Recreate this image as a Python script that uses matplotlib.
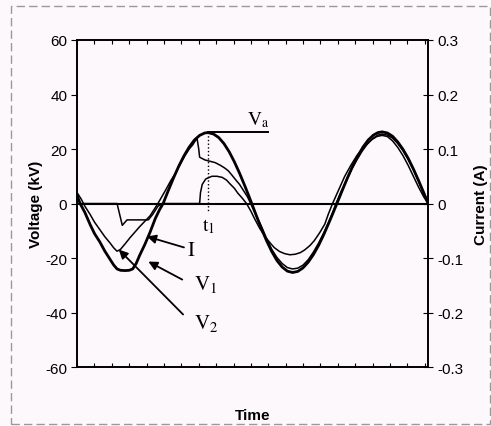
import matplotlib
matplotlib.use("Agg")
import matplotlib.pyplot as plt
from matplotlib.patches import Rectangle

# time in ms, voltages in kV, current in A
t_v1 = [0, 0.35, 0.9, 1.5, 2.0, 2.6, 3.2, 3.8, 4.2, 4.6, 5.0, 5.5, 6.0, 6.4, 6.8, 7.2, 7.8, 8.4,
        9.0, 9.5, 9.9, 10.5, 11.1, 11.7, 12.3, 12.9, 13.5, 14.1, 14.7, 15.1, 15.7, 16.3, 16.9,
        17.5, 18.1, 18.7, 19.3, 19.7, 20.1, 20.6, 21.2, 21.8, 22.4, 23.0, 23.6, 24.2, 24.8, 25.4,
        26.0, 26.6, 27.2, 27.8, 28.4, 29.0, 29.5, 29.9, 30.5, 31.1, 31.7, 32.3, 32.9, 33.5, 34.1,
        34.6, 35.1, 35.7, 36.3, 36.9, 37.5, 38.1, 38.7, 39.3, 39.9, 40.4]
v1 = [3, 0, -3.3, -7.7, -11, -14, -17.5, -20.5, -22.5, -24, -24.5, -24.6, -24.5, -24, -22, -19,
      -15, -10.5, -5.5, -2.2, 0, 4.8, 9.4, 13.7, 17.5, 20.7, 23.3, 25.0, 25.9, 26, 25.5, 24.2, 22,
      19, 15.3, 11.1, 6.5, 3.3, 0, -4.2, -9.1, -13.6, -17.6, -20.9, -23.3, -24.8, -25.3, -24.9,
      -23.6, -21.5, -18.7, -15.3, -11.3, -6.9, -3.1, 0, 4.7, 9.3, 13.6, 17.4, 20.7, 23.3, 25.1,
      26, 26.3, 25.9, 24.7, 22.6, 19.9, 16.6, 12.7, 8.4, 3.9, 0]

t_v2 = [0, 0.5, 0.9, 1.5, 2.0, 2.6, 3.2, 3.8, 4.2, 4.6, 5.0, 5.6, 6.1, 7.2, 8.4, 9.3, 10.2, 10.8,
        11.3, 11.8, 12.4, 12.9, 13.3, 13.6, 13.8, 14.0, 14.1, 14.7, 15.3, 15.9, 16.5, 17.0, 17.4,
        17.8, 18.3, 18.7, 19.2, 19.6, 20.2, 20.7, 21.3, 21.8, 22.4, 23.0, 23.6, 24.2, 24.8, 25.4,
        26.0, 26.6, 27.2, 27.8, 28.4, 29.0, 29.4, 29.8, 30.4, 31.0, 31.6, 32.2, 32.8, 33.4, 34.0,
        34.6, 35.1, 35.7, 36.3, 36.9, 37.5, 38.1, 38.7, 39.3, 39.9, 40.2, 40.4]
v2 = [4, 1.5, -1, -4, -6.8, -9.5, -12.2, -14.5, -16.2, -17.5, -16.8, -14.5, -12.5, -8.5, -4.5, 0,
      5, 8.5, 11, 14, 17.5, 20, 21.5, 23, 24, 20, 17, 16, 15.5, 15, 14, 13, 12, 10.5, 8.5, 7, 4.5,
      2.5, -1.5, -5, -9, -12.8, -16.8, -19.8, -22, -23.5, -24, -23.7, -22.6, -20.6, -17.8, -14.5,
      -10.7, -6.5, -3.5, 0, 4.5, 8.5, 12.6, 16, 19.2, 21.8, 23.8, 25.1, 25.5, 25.1, 24, 22, 19.4,
      16.2, 12.4, 8.2, 3.5, 2, 1]

t_i = [0, 4.6, 5.2, 5.75, 8.2, 8.7, 9.3, 9.8, 14.1, 14.2, 14.4, 14.8, 15.5, 16.1, 16.7, 17.2,
       17.6, 18.1, 18.5, 19.0, 19.5, 20.0, 20.4, 21.0, 21.6, 22.2, 22.7, 23.3, 23.9, 24.5, 25.1,
       25.7, 26.2, 26.8, 27.3, 27.9, 28.5, 28.9, 29.4, 30.1, 30.8, 31.5, 32.2, 32.8, 33.3, 33.9,
       34.5, 35.1, 35.7, 36.3, 36.9, 37.5, 38.1, 38.7, 39.3, 39.9, 40.4]
cur = [0, 0, -0.04, -0.03, -0.03, -0.02, -0.005, 0, 0, 0.02, 0.035, 0.045, 0.05, 0.05, 0.048,
       0.043, 0.036, 0.028, 0.019, 0.01, 0, -0.014, -0.027, -0.045, -0.06, -0.072, -0.081, -0.088,
       -0.092, -0.094, -0.093, -0.09, -0.085, -0.077, -0.068, -0.054, -0.038, -0.02, 0, 0.025,
       0.05, 0.07, 0.088, 0.1, 0.108, 0.117, 0.123, 0.125, 0.123, 0.115, 0.103, 0.088, 0.07, 0.05,
       0.03, 0.012, 0]

v_ticks = [-60, -40, -20, 0, 20, 40, 60]
i_ticks = [-0.3, -0.2, -0.1, 0, 0.1, 0.2, 0.3]
i_labels = ["-0.3", "-0.2", "-0.1", "0", "0.1", "0.2", "0.3"]

t1 = 15.1
va = 26.2

bg = "#fdf8fc"
plt.rcParams["font.family"] = ["Liberation Sans", "DejaVu Sans"]
plt.rcParams["mathtext.fontset"] = "stix"

fig = plt.figure(figsize=(4.91, 4.27), dpi=100, facecolor=bg)
ax = fig.add_axes([0.157, 0.138, 0.715, 0.766], facecolor=bg)
ax2 = ax.twinx()

fig.patches.append(Rectangle((0.022, 0.005), 0.975, 0.978, transform=fig.transFigure,
                             fill=False, ls=(0, (6, 3)), lw=1.0, ec="#999999"))

ax.plot(t_v1, v1, color="black", lw=2.0)
ax.plot(t_v2, v2, color="black", lw=1.1)
ax2.plot(t_i, cur, color="black", lw=1.1)
ax.axhline(0, color="black", lw=1.5)

ax.set_xlim(0, 40.4)
ax.set_ylim(-60, 60)
ax2.set_ylim(-0.3, 0.3)

ax.set_yticks(v_ticks)
ax.set_yticklabels([str(v) for v in v_ticks])
ax2.set_yticks(i_ticks)
ax2.set_yticklabels(i_labels)
ax.tick_params(axis="y", direction="out", length=4, labelsize=11, pad=3)
ax2.tick_params(axis="y", direction="inout", length=7, labelsize=11, pad=3)
ax.set_xticks([i * 2.0 for i in range(21)])
ax.set_xticklabels([])
ax.tick_params(axis="x", direction="in", length=3, top=True, width=0.8)

for sp in ["left", "right", "top", "bottom"]:
    ax.spines[sp].set_linewidth(1.2)
    ax2.spines[sp].set_linewidth(1.2)

ax.set_ylabel("Voltage (kV)", fontsize=11, fontweight="bold", labelpad=2)
ax2.set_ylabel("Current (A)", fontsize=11, fontweight="bold", labelpad=8)
ax.set_xlabel("Time", fontsize=11, fontweight="bold", labelpad=26)

# t1 marker and Va level
ax.plot([t1, t1], [va, -3.5], color="black", lw=1.0, ls=":")
ax.plot([t1, 22.0], [va, va], color="black", lw=1.4)
ax.text(t1, -8, r"$\mathrm{t_1}$", fontsize=14, ha="center", va="center")
ax.text(20.8, 31, r"$\mathrm{V_a}$", fontsize=14, ha="center", va="center")

# arrow labels
arrows = [
    (r"$\mathrm{I}$", (12.65, -16.9), (12.3, -16.1), (8.05, -12.1)),
    (r"$\mathrm{V_1}$", (13.5, -29.5), (12.1, -27.9), (8.2, -21.3)),
    (r"$\mathrm{V_2}$", (13.4, -43.5), (12.2, -40.7), (4.8, -16.9)),
]
for label, pos, start, tip in arrows:
    ax.annotate("", xy=tip, xytext=start,
                arrowprops=dict(arrowstyle="-|>", color="black", lw=1.3, mutation_scale=13,
                                shrinkA=0, shrinkB=0))
    ax.text(pos[0], pos[1], label, fontsize=15, ha="left", va="center")

fig.savefig("out.png", dpi=100, facecolor=bg)
